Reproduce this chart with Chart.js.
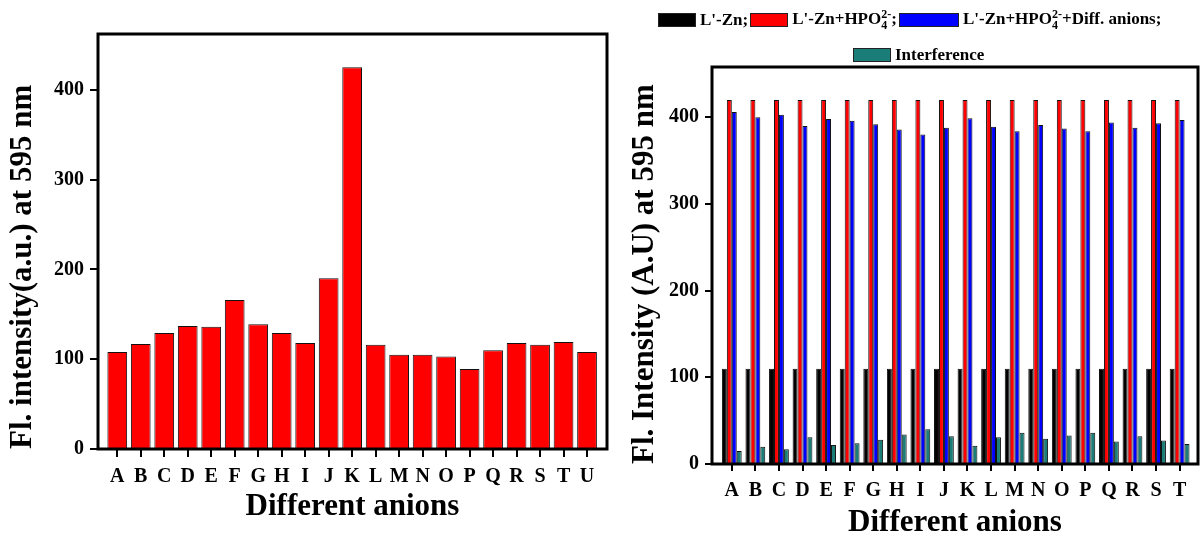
<!DOCTYPE html>
<html>
<head>
<meta charset="utf-8">
<title>Anion response</title>
<script src="https://cdn.jsdelivr.net/npm/chart.js@4.4.1/dist/chart.umd.min.js"></script>
<style>
    body { margin: 0; background: #fff; }
    .panel { position: absolute; top: 0; height: 539px; }
    #leftPanel { left: 0; width: 620px; }
    #rightPanel { left: 620px; width: 580px; }
    #legend { position: absolute; left: 0; top: 0; width: 580px; font: bold 17px "Liberation Serif", "Times New Roman", serif; color: #000; }
    .legend-row { position: absolute; display: flex; align-items: center; white-space: nowrap; }
    .legend-box { display: inline-block; height: 12px; border: 1px solid #222; margin-right: 4px; }
    .legend-text { margin-right: 2px; }
    .ion { display: inline-flex; flex-direction: column; font-size: 12px; line-height: 11px; vertical-align: middle; }
</style>
</head>
<body>
<div class="panel" id="leftPanel"><canvas id="anionChart" width="620" height="539"></canvas></div>
<div class="panel" id="rightPanel">
    <canvas id="interferenceChart" width="580" height="539"></canvas>
    <div id="legend"></div>
</div>
<script>
// single anion screen
const anionLabels = ['A', 'B', 'C', 'D', 'E', 'F', 'G', 'H', 'I', 'J', 'K', 'L', 'M', 'N', 'O', 'P', 'Q', 'R', 'S', 'T', 'U'];
const anionIntensity = [108, 117, 129, 137, 136, 166, 139, 129, 118, 190, 425, 116, 105, 105, 103, 89, 110, 118, 116, 119, 108];

// competition with HPO4 2-
const interferenceLabels = ['A', 'B', 'C', 'D', 'E', 'F', 'G', 'H', 'I', 'J', 'K', 'L', 'M', 'N', 'O', 'P', 'Q', 'R', 'S', 'T'];
const znIntensity = [110, 110, 110, 110, 110, 110, 110, 110, 110, 110, 110, 110, 110, 110, 110, 110, 110, 110, 110, 110];
const znPhosphateIntensity = [420, 420, 420, 420, 420, 420, 420, 420, 420, 420, 420, 420, 420, 420, 420, 420, 420, 420, 420, 420];
const mixedAnionIntensity = [406, 400, 403, 390, 398, 396, 392, 386, 380, 388, 399, 389, 384, 391, 387, 384, 394, 388, 393, 397];
const interferenceIntensity = [15, 20, 17, 31, 22, 24, 28, 34, 40, 32, 21, 31, 36, 29, 33, 36, 26, 32, 27, 23];

const seriesNames = ["L'-Zn", "L'-Zn+HPO₄²⁻", "L'-Zn+HPO₄²⁻+Diff. anions", 'Interference'];
const yTicks = [0, 100, 200, 300, 400];

const serif = "'Liberation Serif', 'Times New Roman', serif";
const tickFont = { family: serif, size: 20, weight: 'bold' };
const titleFont = { family: serif, size: 31, weight: 'bold' };

// box round the plot area
const framePlugin = {
    id: 'frame',
    afterDatasetsDraw(chart) {
        const { ctx, chartArea: a } = chart;
        ctx.save();
        ctx.lineWidth = 3;
        ctx.strokeStyle = '#000';
        ctx.strokeRect(a.left, a.top, a.right - a.left, a.bottom - a.top);
        ctx.restore();
    }
};

function toPoints(values) {
    return values.map((v, i) => ({ x: i, y: v }));
}

function buildScales(cfg) {
    const tickGrid = { drawOnChartArea: false, offset: false, color: '#000', lineWidth: 2, tickLength: cfg.tickLength };
    return {
        x: {
            type: 'linear',
            offset: false,
            min: cfg.xMin,
            max: cfg.xMax,
            afterBuildTicks: (scale) => { scale.ticks = cfg.labels.map((_, i) => ({ value: i })); },
            afterFit: (scale) => { scale.height = cfg.xHeight; },
            grid: tickGrid,
            border: { display: false },
            ticks: { color: '#000', font: tickFont, padding: 8, maxRotation: 0, autoSkip: false, callback: (v) => cfg.labels[v] },
            title: { display: true, text: 'Different anions', color: '#000', font: titleFont, padding: { top: 0, bottom: cfg.xTitlePad } }
        },
        y: {
            min: 0,
            max: cfg.yMax,
            afterBuildTicks: (scale) => { scale.ticks = yTicks.map(v => ({ value: v })); },
            afterFit: (scale) => { scale.width = cfg.yWidth; },
            grid: tickGrid,
            border: { display: false },
            ticks: { color: '#000', font: tickFont, padding: 6 },
            title: { display: true, align: 'start', text: cfg.yTitle, color: '#000', font: titleFont, padding: { top: cfg.yTitlePad, bottom: 0 } }
        }
    };
}

const anionChart = new Chart(document.getElementById('anionChart'), {
    type: 'bar',
    data: {
        datasets: [{
            label: 'Intensity',
            data: toPoints(anionIntensity),
            backgroundColor: '#ff0000',
            borderColor: '#111',
            borderWidth: 1,
            categoryPercentage: 0.84,
            barPercentage: 1
        }]
    },
    options: {
        responsive: false,
        animation: false,
        layout: { padding: { top: 34, right: 13, bottom: 0, left: 0 } },
        plugins: { legend: { display: false }, tooltip: { enabled: false } },
        scales: buildScales({
            labels: anionLabels, xMin: -0.82, xMax: 20.85, xHeight: 90, xTitlePad: 13,
            yMax: 462, yWidth: 98, yTitlePad: 4, tickLength: 8,
            yTitle: 'Fl. intensity(a.u.) at 595 nm'
        })
    },
    plugins: [framePlugin]
});

const seriesColors = ['#000000', '#ff0000', '#0000ff', '#1b7d78'];
const seriesValues = [znIntensity, znPhosphateIntensity, mixedAnionIntensity, interferenceIntensity];

const interferenceChart = new Chart(document.getElementById('interferenceChart'), {
    type: 'bar',
    data: {
        datasets: seriesValues.map((values, i) => ({
            label: seriesNames[i],
            data: toPoints(values),
            backgroundColor: seriesColors[i],
            borderColor: '#111',
            borderWidth: 1,
            categoryPercentage: 0.84,
            barPercentage: 1
        }))
    },
    options: {
        responsive: false,
        animation: false,
        layout: { padding: { top: 67, right: 2, bottom: 0, left: 0 } },
        plugins: { legend: { display: false }, tooltip: { enabled: false } },
        scales: buildScales({
            labels: interferenceLabels, xMin: -0.84, xMax: 19.78, xHeight: 75, xTitlePad: -3,
            yMax: 458, yWidth: 92, yTitlePad: 6, tickLength: 7,
            yTitle: 'Fl. Intensity (A.U) at 595 nm'
        })
    },
    plugins: [framePlugin]
});

// html legend, so the ion charge can sit over its subscript
function legendMarkup(label) {
    return label.replace('₄²⁻', '<span class="ion"><span>2-</span><span>4</span></span>');
}

function renderLegend(chart) {
    const box = document.getElementById('legend');
    const rows = [{ left: 38, top: 9, items: [0, 1, 2] }, { left: 233, top: 45, items: [3] }];
    rows.forEach(row => {
        const div = document.createElement('div');
        div.className = 'legend-row';
        div.style.left = row.left + 'px';
        div.style.top = row.top + 'px';
        row.items.forEach(i => {
            const ds = chart.data.datasets[i];
            const sw = document.createElement('span');
            sw.className = 'legend-box';
            sw.style.background = ds.backgroundColor;
            sw.style.width = (i === 2 ? 58 : 36) + 'px';
            const txt = document.createElement('span');
            txt.className = 'legend-text';
            txt.innerHTML = legendMarkup(ds.label) + (i < 3 ? ';' : '');
            div.appendChild(sw);
            div.appendChild(txt);
        });
        box.appendChild(div);
    });
}

renderLegend(interferenceChart);
</script>
</body>
</html>
